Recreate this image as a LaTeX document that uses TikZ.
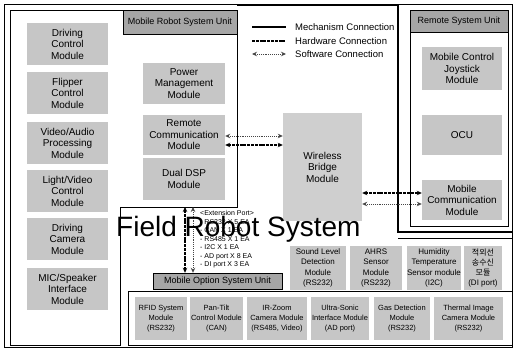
\documentclass[tikz,border=0pt]{standalone}
\usepackage{fontspec}
\setmainfont{Liberation Sans}
\newfontfamily\krfont{Noto Sans CJK KR}
\usetikzlibrary{arrows.meta}

\begin{document}
\begin{tikzpicture}[x=1pt, y=-1pt, >={Stealth[length=5pt, width=4.5pt]},
  module/.style={fill=gray!45, align=center, inner sep=0pt, font=\fontsize{10}{11.5}\selectfont},
  sensor/.style={module, font=\fontsize{8}{10.2}\selectfont},
  optmod/.style={module, font=\fontsize{7.5}{10}\selectfont},
  unitbar/.style={draw, fill=gray!70, inner sep=0pt, font=\fontsize{9}{10}\selectfont},
  mech/.style={line width=2pt},
  hwconn/.style={<->, line width=1.5pt, dash pattern=on 3pt off 0.8pt},
  swconn/.style={<->, gray!55!black, line width=0.9pt, densely dotted}]
  \useasboundingbox (0,0) rectangle (515,350);
  % frames
  \draw[line width=1pt] (4,5) rectangle (512,348);
  \draw[line width=0.8pt] (10,10) -- (237,10) -- (237,207) -- (120,207) -- (120,345) -- (10,345) -- cycle;
  \draw[line width=2pt] (237,5) -- (398,5) -- (398,232) -- (512,232);
  \draw (398,238) -- (512,238);
  \draw (128,291) rectangle (512,345);
  \draw (410,10) rectangle (508,226);
  \node[unitbar, minimum width=114pt, minimum height=24pt] (mrunit) at (180,22) {Mobile Robot System Unit};
  \node[unitbar, minimum width=98pt, minimum height=22pt] (rsunit) at (459,21) {Remote System Unit};
  \node[unitbar, minimum width=129pt, minimum height=16pt] (optbar) at (217.5,281) {Mobile Option System Unit};
  % legend
  \node[anchor=west, inner sep=0pt, font=\fontsize{9.5}{10}\selectfont] (lmech) at (295,27) {Mechanism Connection};
  \node[anchor=west, inner sep=0pt, font=\fontsize{9.5}{10}\selectfont] (lhw) at (295,41) {Hardware Connection};
  \node[anchor=west, inner sep=0pt, font=\fontsize{9.5}{10}\selectfont] (lsw) at (295,54) {Software Connection};
  \draw[mech] ([xshift=-43pt]lmech.west) -- ([xshift=-9pt]lmech.west);
  \draw[line width=1.5pt, dash pattern=on 3pt off 0.8pt] ([xshift=-43pt]lhw.west) -- ([xshift=-9pt]lhw.west);
  \draw[swconn] ([xshift=-43pt]lsw.west) -- ([xshift=-9pt]lsw.west);
  % mobile robot system unit
  \node[module, minimum width=81pt, minimum height=42pt] (drvctrl) at (67.5,44) {Driving\\Control\\Module};
  \node[module, minimum width=81pt, minimum height=42pt] (flipper) at (67.5,93) {Flipper\\Control\\Module};
  \node[module, minimum width=81pt, minimum height=42pt] (video) at (67.5,143) {Video/Audio\\Processing\\Module};
  \node[module, minimum width=81pt, minimum height=42pt] (light) at (67.5,191) {Light/Video\\Control\\Module};
  \node[module, minimum width=81pt, minimum height=42pt] (drvcam) at (67.5,239) {Driving\\Camera\\Module};
  \node[module, minimum width=81pt, minimum height=42pt] (mic) at (67.5,289) {MIC/Speaker\\Interface\\Module};
  \node[module, minimum width=82pt, minimum height=41pt] (power) at (184,83.5) {Power\\Management\\Module};
  \node[module, minimum width=82pt, minimum height=40pt] (remote) at (184,135) {Remote\\Communication\\Module};
  \node[module, minimum width=82pt, minimum height=42pt] (dsp) at (184,179) {Dual DSP\\Module};
  \node[module, fill=gray!38, minimum width=79pt, minimum height=108pt] (wireless) at (322.5,167) {Wireless\\Bridge\\Module};
  % remote system unit
  \node[module, minimum width=80pt, minimum height=43pt] (joystick) at (462,68.5) {Mobile Control\\Joystick\\Module};
  \node[module, minimum width=80pt, minimum height=40pt] (ocu) at (462,135) {OCU};
  \node[module, minimum width=80pt, minimum height=40pt] (mobcomm) at (462,200) {Mobile\\Communication\\Module};
  % mobile option system unit
  \node[sensor, minimum width=56pt, minimum height=44pt] (sound) at (318,268) {Sound Level\\Detection\\Module\\(RS232)};
  \node[sensor, minimum width=52pt, minimum height=44pt] (ahrs) at (376,268) {AHRS\\Sensor\\Module\\(RS232)};
  \node[sensor, minimum width=54pt, minimum height=44pt] (humid) at (434,268) {Humidity\\Temperature\\Sensor module\\(I2C)};
  \node[sensor, minimum width=38pt, minimum height=44pt] (irtrx) at (483,268) {{\krfont 적외선}\\{\krfont 송수신}\\{\krfont 모듈}\\(DI port)};
  \node[optmod, minimum width=52pt, minimum height=43pt] (rfid) at (161,318.5) {RFID System\\Module\\(RS232)};
  \node[optmod, minimum width=53pt, minimum height=43pt] (pantilt) at (216.5,318.5) {Pan-Tilt\\Control Module\\(CAN)};
  \node[optmod, minimum width=60pt, minimum height=43pt] (irzoom) at (277,318.5) {IR-Zoom\\Camera Module\\(RS485, Video)};
  \node[optmod, minimum width=58pt, minimum height=43pt] (sonic) at (340,318.5) {Ultra-Sonic\\Interface Module\\(AD port)};
  \node[optmod, minimum width=56pt, minimum height=43pt] (gas) at (402,318.5) {Gas Detection\\Module\\(RS232)};
  \node[optmod, minimum width=69pt, minimum height=43pt] (thermal) at (468.5,318.5) {Thermal Image\\Camera Module\\(RS232)};
  % extension port
  \node[anchor=north west, align=left, inner sep=0pt, font=\fontsize{7}{8.5}\selectfont] (extport) at (200,210.5)
    {<Extension Port>\\- RS232 X 5 EA\\- CAN X 1 EA\\- RS485 X 1 EA\\- I2C X 1 EA\\- AD port X 8 EA\\- DI port X 3 EA};
  % connections
  \coordinate (mrbase) at (185,207);
  \draw[hwconn] (mrbase) -- (mrbase |- optbar.north);
  \draw[swconn] ([xshift=8pt]mrbase) -- ([xshift=8pt]mrbase |- optbar.north);
  \draw[swconn] ([yshift=-1pt]remote.east) -- ([yshift=-1pt]remote.east -| wireless.west);
  \draw[hwconn] ([yshift=-10pt]remote.east) -- ([yshift=-10pt]remote.east -| wireless.west);
  \draw[hwconn] ([yshift=7pt]mobcomm.west -| wireless.east) -- ([yshift=7pt]mobcomm.west);
  \draw[swconn] ([yshift=-4pt]mobcomm.west -| wireless.east) -- ([yshift=-4pt]mobcomm.west);
  % title
  \node[anchor=base west, inner sep=0pt, font=\fontsize{28}{28}\selectfont] (fieldtitle) at (116,237) {Field Robot System};
\end{tikzpicture}
\end{document}
